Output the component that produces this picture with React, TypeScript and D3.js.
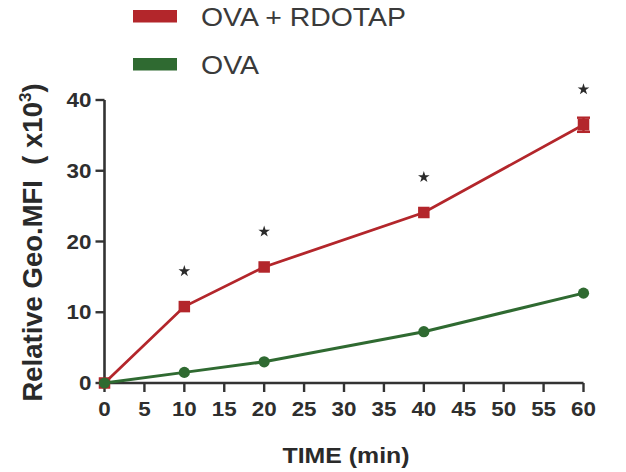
import React from "react";
import * as d3 from "d3";

const timePoints = [0, 10, 20, 40, 60];
const ovaRdotap = [0, 10.8, 16.4, 24.1, 36.5];
const ovaRdotapErr = [0, 0.3, 0.3, 0.3, 1.0];
const ova = [0, 1.5, 3.0, 7.25, 12.7];
const ovaErr = [0, 0.1, 0.1, 0.1, 0.2];
const significant = [false, true, true, true, true];
const xTicks = [0, 5, 10, 15, 20, 25, 30, 35, 40, 45, 50, 55, 60];
const yTicks = [0, 10, 20, 30, 40];
const seriesNames = ["OVA + RDOTAP", "OVA"];

const RED = "#b3262b";
const GREEN = "#2f6a31";
const AXIS = "#333333";
const FONT = "'Liberation Sans', Arial, Helvetica, sans-serif";

export default function App() {
  const x = d3.scaleLinear().domain([0, 60]).range([104.5, 583.5]);
  const y = d3.scaleLinear().domain([0, 40]).range([383, 100]);
  const line = d3
    .line<number>()
    .x((_, i) => x(timePoints[i]))
    .y((d) => y(d));
  const star = d3.symbol().type(d3.symbolStar).size(42)() as string;
  const square = 11.5;

  return (
    <svg
      width={626}
      height={472}
      style={{ position: "absolute", left: 0, top: 0, background: "#fff" }}
      fontFamily={FONT}
    >
      {/* Legend */}
      <rect x={133} y={10} width={44} height={12.5} fill={RED} />
      <text x={201} y={26} fontSize={26} fill="#3a3a3a" textLength={205} lengthAdjust="spacingAndGlyphs">
        {seriesNames[0]}
      </text>
      <rect x={133} y={58} width={44} height={12.5} fill={GREEN} />
      <text x={201} y={74} fontSize={26} fill="#3a3a3a" textLength={58} lengthAdjust="spacingAndGlyphs">
        {seriesNames[1]}
      </text>

      {/* Axes */}
      <line x1={x(0)} x2={x(0)} y1={y(40)} y2={y(0)} stroke={AXIS} strokeWidth={2.6} />
      <line x1={x(0)} x2={x(60)} y1={y(0)} y2={y(0)} stroke={AXIS} strokeWidth={2.6} />
      {yTicks.map((t) => (
        <g key={"y" + t}>
          <line x1={x(0) - 9} x2={x(0)} y1={y(t)} y2={y(t)} stroke={AXIS} strokeWidth={2.4} />
          <text
            transform={`translate(${x(0) - 13},${y(t) + 7}) scale(1.12,1)`}
            textAnchor="end"
            fontSize={20}
            fontWeight="bold"
            fill="#2e2e2e"
          >
            {t}
          </text>
        </g>
      ))}
      {xTicks.map((t) => (
        <g key={"x" + t}>
          <line x1={x(t)} x2={x(t)} y1={y(0)} y2={y(0) + 9} stroke={AXIS} strokeWidth={2.4} />
          <text
            transform={`translate(${x(t)},${416}) scale(1.12,1)`}
            textAnchor="middle"
            fontSize={20}
            fontWeight="bold"
            fill="#2e2e2e"
          >
            {t}
          </text>
        </g>
      ))}

      {/* Axis titles */}
      <text
        transform={`translate(${(x(0) + x(60)) / 2 + 2},463) scale(1.13,1)`}
        textAnchor="middle"
        fontSize={22}
        fontWeight="bold"
        fill="#2a2a2a"
      >
        TIME (min)
      </text>
      <text
        transform={`translate(42,${(y(0) + y(40)) / 2 + 1}) rotate(-90)`}
        textAnchor="middle"
        fontSize={27.5}
        fontWeight="bold"
        fill="#2a2a2a"
        style={{ whiteSpace: "pre" }}
      >
        {"Relative Geo.MFI  ( x10"}
        <tspan fontSize={17} dy={-11}>3</tspan>
        <tspan dy={11}>)</tspan>
      </text>

      {/* OVA + RDOTAP */}
      <path d={line(ovaRdotap) || ""} fill="none" stroke={RED} strokeWidth={2.8} />
      {ovaRdotap.map((v, i) => (
        <g key={"r" + i}>
          {ovaRdotapErr[i] > 0.5 && (
            <g stroke={RED} strokeWidth={2.4}>
              <line x1={x(timePoints[i])} x2={x(timePoints[i])} y1={y(v + ovaRdotapErr[i])} y2={y(v - ovaRdotapErr[i])} />
              <line x1={x(timePoints[i]) - 6.5} x2={x(timePoints[i]) + 6.5} y1={y(v + ovaRdotapErr[i])} y2={y(v + ovaRdotapErr[i])} />
              <line x1={x(timePoints[i]) - 6.5} x2={x(timePoints[i]) + 6.5} y1={y(v - ovaRdotapErr[i])} y2={y(v - ovaRdotapErr[i])} />
            </g>
          )}
          <rect
            x={x(timePoints[i]) - square / 2}
            y={y(v) - square / 2}
            width={square}
            height={square}
            fill={RED}
          />
        </g>
      ))}

      {/* OVA */}
      <path d={line(ova) || ""} fill="none" stroke={GREEN} strokeWidth={3} />
      {ova.map((v, i) => (
        <circle key={"g" + i} cx={x(timePoints[i])} cy={y(v)} r={5.6} fill={GREEN} data-err={ovaErr[i]} />
      ))}

      {/* Significance stars */}
      {significant.map((s, i) =>
        s ? (
          <path
            key={"s" + i}
            d={star}
            transform={`translate(${x(timePoints[i])},${y(ovaRdotap[i] + 5)})`}
            fill="#2b2b2b"
          />
        ) : null
      )}
    </svg>
  );
}
